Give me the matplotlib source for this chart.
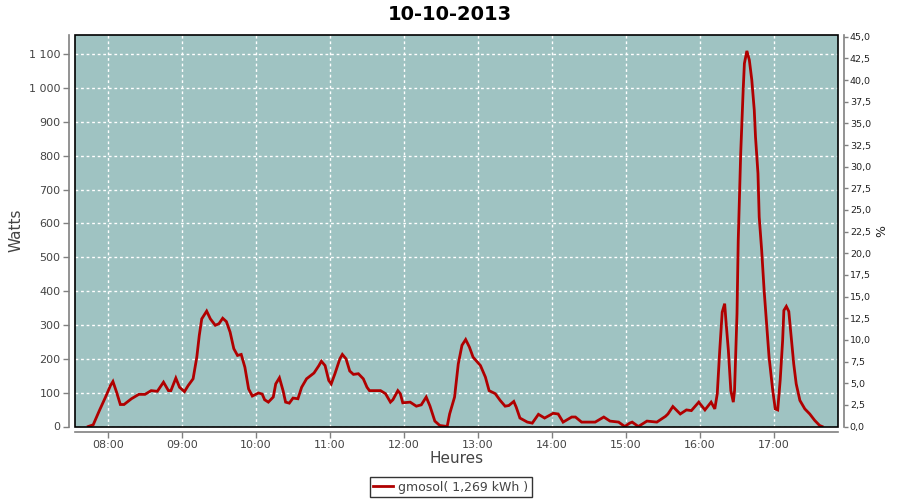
import matplotlib
matplotlib.use("Agg")
import matplotlib.pyplot as plt
from matplotlib.patches import Rectangle
from matplotlib.ticker import FixedLocator, FuncFormatter

title = "10-10-2013"
series_name = "gmosol( 1,269 kWh )"

times = ["07:44", "07:48", "07:53", "07:58", "08:02", "08:04", "08:07", "08:10", "08:13",
         "08:19", "08:25", "08:30", "08:35", "08:40", "08:45", "08:49", "08:51", "08:55",
         "08:58", "09:02", "09:05", "09:09", "09:12", "09:14", "09:16", "09:20", "09:23",
         "09:27", "09:30", "09:33", "09:36", "09:39", "09:42", "09:45", "09:48", "09:51",
         "09:54", "09:57", "10:02", "10:05", "10:07", "10:10", "10:14", "10:16", "10:19",
         "10:22", "10:24", "10:27", "10:30", "10:34", "10:37", "10:41", "10:47", "10:51",
         "10:53", "10:56", "10:59", "11:01", "11:04", "11:08", "11:10", "11:13", "11:16",
         "11:19", "11:23", "11:27", "11:30", "11:32", "11:41", "11:45", "11:49", "11:51",
         "11:55", "11:57", "11:59", "12:05", "12:10", "12:14", "12:18", "12:21", "12:25",
         "12:29", "12:35", "12:37", "12:41", "12:44", "12:47", "12:50", "12:53", "12:56",
         "13:02", "13:06", "13:09", "13:14", "13:18", "13:22", "13:25", "13:29", "13:31",
         "13:34", "13:40", "13:44", "13:49", "13:54", "14:01", "14:05", "14:09", "14:16",
         "14:19", "14:24", "14:35", "14:42", "14:47", "14:54", "14:59", "15:03", "15:05",
         "15:10", "15:17", "15:25", "15:32", "15:34", "15:38", "15:44", "15:49", "15:53",
         "15:59", "16:04", "16:09", "16:12", "16:14", "16:16", "16:18", "16:20", "16:21",
         "16:23", "16:25", "16:27", "16:28", "16:30", "16:31", "16:33", "16:35", "16:36",
         "16:38", "16:40", "16:42", "16:44", "16:45", "16:47", "16:48", "16:50", "16:52",
         "16:54", "16:56", "16:59", "17:01", "17:03", "17:05", "17:07", "17:08", "17:10",
         "17:12", "17:14", "17:16", "17:18", "17:21", "17:25", "17:29", "17:33", "17:37",
         "17:39"]

watts = [0, 5, 47, 87, 121, 133, 101, 65, 65,
         82, 95, 95, 106, 104, 131, 106, 106, 143,
         116, 103, 121, 141, 205, 269, 318, 341, 318,
         299, 304, 320, 310, 279, 230, 210, 213, 175,
         111, 90, 99, 96, 79, 72, 87, 126, 144,
         105, 72, 69, 84, 82, 116, 141, 158, 180,
         193, 180, 136, 126, 156, 200, 213, 200, 164,
         154, 156, 141, 116, 106, 106, 97, 72, 79,
         106, 97, 70, 72, 60, 64, 87, 61, 16,
         3, 0, 37, 87, 185, 240, 257, 235, 205,
         180, 146, 106, 97, 77, 60, 62, 74, 57,
         25, 13, 10, 36, 25, 39, 37, 13, 28,
         28, 13, 13, 28, 16, 13, 0, 10, 13,
         0, 16, 13, 30, 37, 59, 37, 49, 47,
         72, 49, 72, 52, 97, 225, 338, 363, 314,
         225, 106, 72, 106, 333, 550, 807, 994, 1073,
         1110, 1083, 1024, 935, 856, 748, 619, 521, 402,
         304, 205, 106, 52, 49, 136, 254, 343, 355,
         340, 264, 185, 126, 77, 52, 37, 18, 3,
         0]

hour_labels = ["08:00", "09:00", "10:00", "11:00", "12:00", "13:00", "14:00",
               "15:00", "16:00", "17:00"]
watt_ticks = [0, 100, 200, 300, 400, 500, 600, 700, 800, 900, 1000, 1100]
pct_ticks = [0.0, 2.5, 5.0, 7.5, 10.0, 12.5, 15.0, 17.5, 20.0, 22.5, 25.0, 27.5,
             30.0, 32.5, 35.0, 37.5, 40.0, 42.5, 45.0]


def to_hours(s):
    h, m = s.split(":")
    return int(h) + int(m) / 60.0


x = [to_hours(t) for t in times]
hour_pos = [to_hours(t) for t in hour_labels]

W, H = 900, 500
fig = plt.figure(figsize=(9, 5), dpi=100)
fig.patch.set_facecolor("white")

L, R, T, B = 75, 838, 35, 426.5
ax = fig.add_axes([L / W, (H - B) / H, (R - L) / W, (B - T) / H])
ax.set_facecolor("#9fc3c2")

line_color = "#b00000"
ax.plot(x, watts, color=line_color, lw=2.0, zorder=4, label=series_name,
        solid_joinstyle="miter")

ax.set_xlim(8 - 33 / 74, 17 + 64 / 74)
ax.set_ylim(0, 1157)

ax.xaxis.set_major_locator(FixedLocator(hour_pos))
ax.set_xticklabels(hour_labels)
ax.yaxis.set_major_locator(FixedLocator(watt_ticks))
ax.yaxis.set_major_formatter(FuncFormatter(lambda v, p: f"{int(v):,}".replace(",", " ")))

ax.grid(True, color="white", linestyle=(0, (2, 2)), linewidth=1.0, zorder=1)
ax.set_axisbelow(True)

gray = "#808080"
for s in ["top", "right"]:
    ax.spines[s].set_visible(False)
for s in ["left", "bottom"]:
    ax.spines[s].set_position(("outward", 4))
    ax.spines[s].set_color(gray)
    ax.spines[s].set_linewidth(1.2)

ax.tick_params(axis="both", direction="out", length=4, width=1, color=gray,
               labelcolor="#444444", labelsize=8)
ax.tick_params(axis="x", pad=1.5)
ax.tick_params(axis="y", pad=2.5)

border = Rectangle((0, 0), 1, 1, transform=ax.transAxes, fill=False,
                   edgecolor="black", lw=1.2, zorder=5, clip_on=False)
ax.add_patch(border)

ax2 = ax.twinx()
ax2.set_ylim(0, 45.2)
ax2.yaxis.set_major_locator(FixedLocator(pct_ticks))
ax2.yaxis.set_major_formatter(FuncFormatter(lambda v, p: f"{v:.1f}".replace(".", ",")))
for s in ["top", "left", "bottom"]:
    ax2.spines[s].set_visible(False)
ax2.spines["right"].set_position(("outward", 4))
ax2.spines["right"].set_color(gray)
ax2.spines["right"].set_linewidth(1.2)
ax2.tick_params(axis="y", direction="out", length=3, width=1, color=gray,
                labelcolor="#222222", labelsize=6.8, pad=1.5)
ax2.patch.set_visible(False)

ax.set_ylabel("Watts", fontsize=11, color="#444444", labelpad=4)
ax2.set_ylabel("%", fontsize=9, color="#222222", labelpad=3)
ax.set_xlabel("Heures", fontsize=11, color="#444444", labelpad=1)

fig.text(0.5, 1 - 14 / H, title, ha="center", va="center", fontsize=14,
         fontweight="bold", color="black")

leg = fig.legend(loc="center", bbox_to_anchor=(451 / W, 1 - 487 / H),
                 frameon=True, fancybox=False, fontsize=9, handlelength=1.6,
                 handletextpad=0.4, borderpad=0.3, borderaxespad=0)
leg.get_frame().set_edgecolor("black")
leg.get_frame().set_linewidth(1.0)
for t in leg.get_texts():
    t.set_color("#444444")

fig.savefig("out.png", dpi=100)
